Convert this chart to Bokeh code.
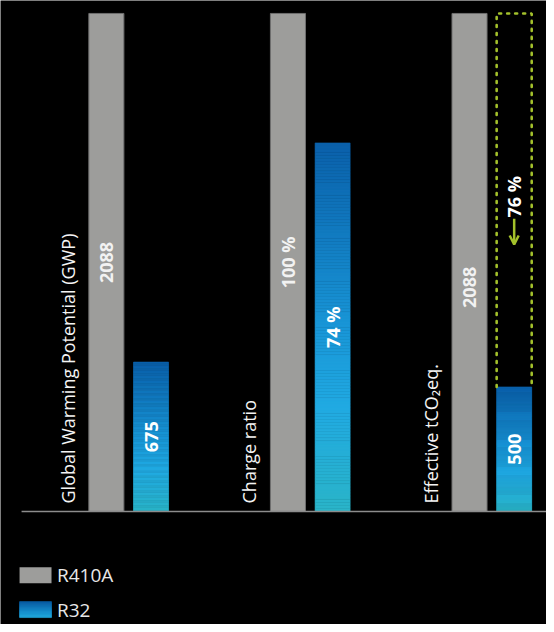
import numpy as np
from bokeh.plotting import figure
from bokeh.models import Range1d, ColumnDataSource, Arrow, OpenHead
from bokeh.core.properties import value
from bokeh.embed import file_html
from bokeh.resources import INLINE

# ---------------- data ----------------
categories = ["Global Warming Potential (GWP)", "Charge ratio", "Effective tCO\u2082eq."]
series = ["R410A", "R32"]
r410a_labels = ["2088", "100 %", "2088"]
r32_labels = ["675", "74 %", "500"]
# bar heights relative to the R410A bar of each group (%)
r410a_height = [100, 100, 100]
r32_height = [30, 74, 25]
reduction_label = "76 %"

# ---------------- layout / style ----------------
FONT = value("Open Sans")
GRAY = "#9d9d9b"
GREEN = "#a3c12b"
OFF = 0.123          # offset of each bar from the group centre
BW = 0.193           # bar width
gray_label_pos = [50, 50, 45]   # where the R410A value labels sit (% of bar)
stops = [(0.0, (10, 96, 170)), (0.5, (25, 150, 215)), (0.72, (33, 170, 226)), (1.0, (42, 180, 200))]


def grad(t):
    for (t0, c0), (t1, c1) in zip(stops[:-1], stops[1:]):
        if t0 <= t <= t1:
            f = (t - t0) / (t1 - t0)
            c = [round(a + (b - a) * f) for a, b in zip(c0, c1)]
            return "#%02x%02x%02x" % tuple(c)
    return "#%02x%02x%02x" % stops[-1][1]


idx = np.arange(len(categories))
gx = idx - OFF
bx = idx + OFF

X0, X1 = -0.706, 2.301
Y0, Y1 = -22.7, 102.6

p = figure(width=546, height=624, output_backend="svg", toolbar_location=None,
           x_range=Range1d(X0, X1), y_range=Range1d(Y0, Y1),
           x_axis_type=None, y_axis_type=None, min_border=0,
           background_fill_color="black", border_fill_color="black",
           outline_line_color=None)
p.grid.visible = False

# R410A bars
p.vbar(x=gx, top=r410a_height, width=BW, fill_color=GRAY, line_color="#6f6f6f", line_width=1)

# R32 bars with vertical gradient (drawn as thin slices)
N = 120
xs, bots, tops, cols = [], [], [], []
for xi, h in zip(bx, r32_height):
    for k in range(N):
        xs.append(xi)
        bots.append(h * k / N)
        tops.append(h * (k + 1) / N)
        cols.append(grad(1 - (k + 0.5) / N))
src = ColumnDataSource(dict(x=xs, bottom=bots, top=tops, color=cols))
p.vbar(x="x", bottom="bottom", top="top", width=BW, fill_color="color", line_color="color",
       line_width=0.6, source=src)

# baseline
p.segment(x0=[-0.59], y0=[0], x1=[X1], y1=[0], line_color="#8c8c8c", line_width=1.5)

# dotted reduction box on the third group
x_l = bx[2] - BW / 2
x_r = bx[2] + BW / 2
p.line(x=[x_l, x_l, x_r, x_r], y=[r32_height[2], r410a_height[2], r410a_height[2], r32_height[2]],
       line_color=GREEN, line_width=2.6, line_dash="2 6", line_cap="round")

# arrow + reduction label
p.add_layout(Arrow(end=OpenHead(size=9, line_color=GREEN, line_width=2.5),
                   x_start=bx[2], y_start=58.8, x_end=bx[2], y_end=53.6,
                   line_color=GREEN, line_width=2.5))
p.text(x=[bx[2]], y=[63.2], text=[reduction_label], angle=np.pi / 2,
       text_align="center", text_baseline="middle", text_font=FONT,
       text_font_size="18px", text_font_style="bold", text_color="white")

# value labels
p.text(x=gx, y=gray_label_pos, text=r410a_labels, angle=np.pi / 2,
       text_align="center", text_baseline="middle", text_font=FONT,
       text_font_size="18px", text_font_style="bold", text_color="#f2f2f2")
p.text(x=bx, y=[h / 2 for h in r32_height], text=r32_labels, angle=np.pi / 2,
       text_align="center", text_baseline="middle", text_font=FONT,
       text_font_size="18px", text_font_style="bold", text_color="white")

# category labels
p.text(x=idx - 0.337, y=[1.6] * len(categories), text=categories, angle=np.pi / 2,
       text_align="left", text_baseline="middle", text_font=FONT,
       text_font_size="18px", text_color="#f4f4f4")

# legend (manual, to keep the gradient swatch)
lx0, lx1 = -0.601, -0.425
p.quad(left=[lx0], right=[lx1], top=[-11.2], bottom=[-14.41], fill_color=GRAY, line_color=None)
M = 20
lt, lb, lc = [], [], []
for k in range(M):
    top = -18.1 - 3.21 * k / M
    lt.append(top)
    lb.append(top - 3.21 / M)
    lc.append(grad(k / M * 0.8))
p.quad(left=[lx0] * M, right=[lx1] * M, top=lt, bottom=lb, fill_color=lc, line_color=lc, line_width=0.5)
p.text(x=[-0.395, -0.395], y=[-12.8, -19.7], text=series, text_align="left",
       text_baseline="middle", text_font=FONT, text_font_size="19px", text_color="#e8e8e8")

open("out.html", "w").write(file_html(p, INLINE))
